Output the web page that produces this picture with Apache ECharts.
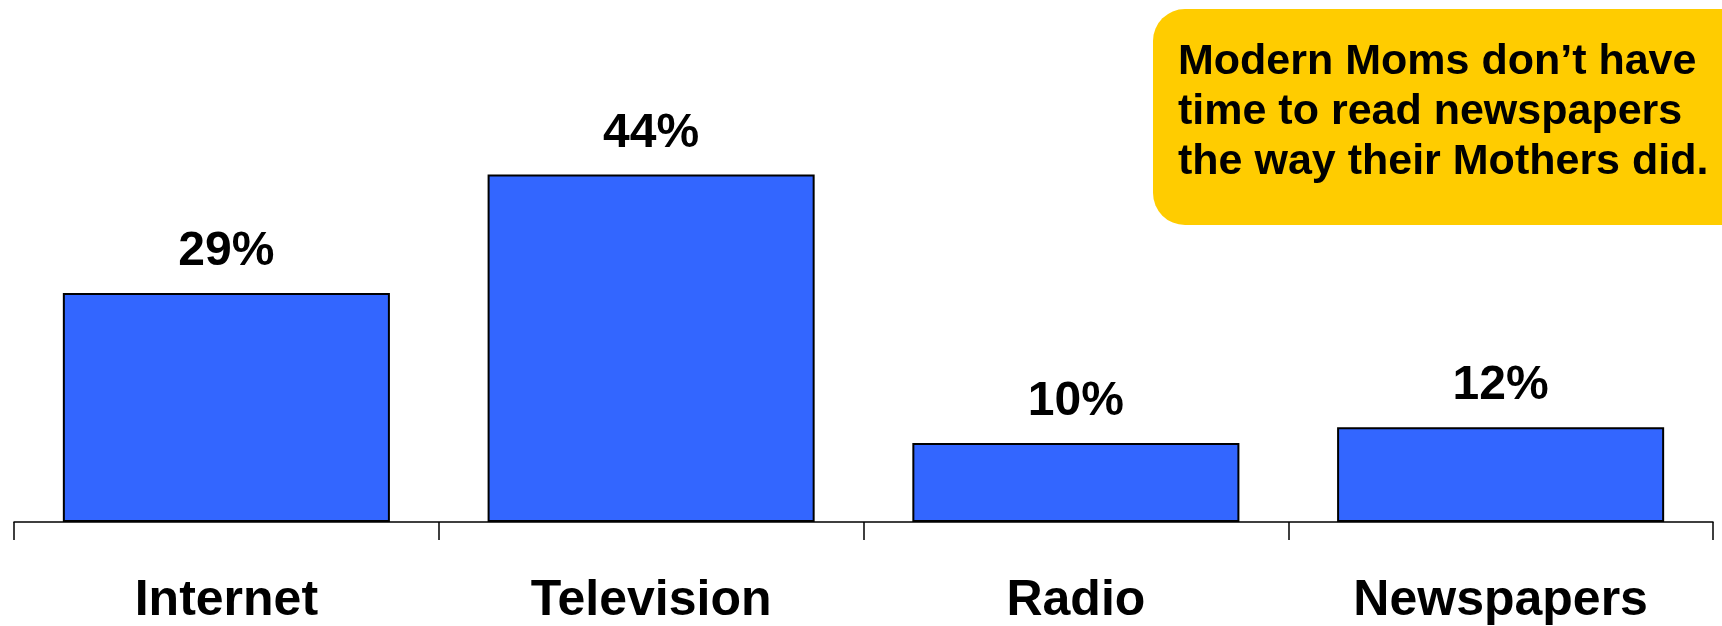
<!DOCTYPE html>
<html>
<head>
<meta charset="utf-8">
<title>Media usage</title>
<script src="https://cdn.jsdelivr.net/npm/echarts@6/dist/echarts.min.js"></script>
<style>
    html, body {
        margin: 0;
        padding: 0;
        background: #fff;
    }

    #chart {
        width: 1722px;
        height: 626px;
    }
</style>
</head>
<body>
<div id="chart"></div>
<script>
// 数据
const categories = ['Internet', 'Television', 'Radio', 'Newspapers']
const shares = [29, 44, 10, 12]
const noteLines = ['Modern Moms don\u2019t have', 'time to read newspapers', 'the way their Mothers did.']

const font = '"Liberation Sans", Arial, sans-serif'

const chart = echarts.init(document.getElementById('chart'))
chart.setOption({
    animation: false,
    grid: {
        left: 14,
        right: 9,
        top: 127,
        bottom: 104
    },
    xAxis: {
        type: 'category',
        data: categories,
        axisLine: {
            lineStyle: { color: '#000', width: 1.5 }
        },
        axisTick: {
            show: true,
            alignWithLabel: false,
            length: 18,
            lineStyle: { color: '#000', width: 1.5 }
        },
        axisLabel: {
            margin: 54,
            color: '#000',
            fontSize: 50,
            fontWeight: 'bold',
            fontFamily: font
        }
    },
    yAxis: {
        type: 'value',
        min: 0,
        max: 50,
        show: false
    },
    series: [
        {
            type: 'bar',
            data: shares,
            barCategoryGap: '23%',
            itemStyle: {
                color: '#3366FF',
                borderColor: '#000',
                borderWidth: 2
            },
            label: {
                show: true,
                position: 'top',
                distance: 17,
                formatter: '{c}%',
                color: '#000',
                fontSize: 48,
                fontWeight: 'bold',
                fontFamily: font
            }
        }
    ],
    // 右上角黄色提示框
    graphic: [
        {
            type: 'group',
            left: 1153,
            top: 9,
            children: [
                {
                    type: 'rect',
                    shape: { x: 0, y: 0, width: 600, height: 216, r: 32 },
                    style: { fill: '#FFCC00' }
                },
                {
                    type: 'text',
                    x: 25,
                    y: 28,
                    style: {
                        text: noteLines.join('\n'),
                        fill: '#000',
                        font: 'bold 43px ' + font,
                        lineHeight: 50
                    }
                }
            ]
        }
    ]
})
</script>
</body>
</html>
